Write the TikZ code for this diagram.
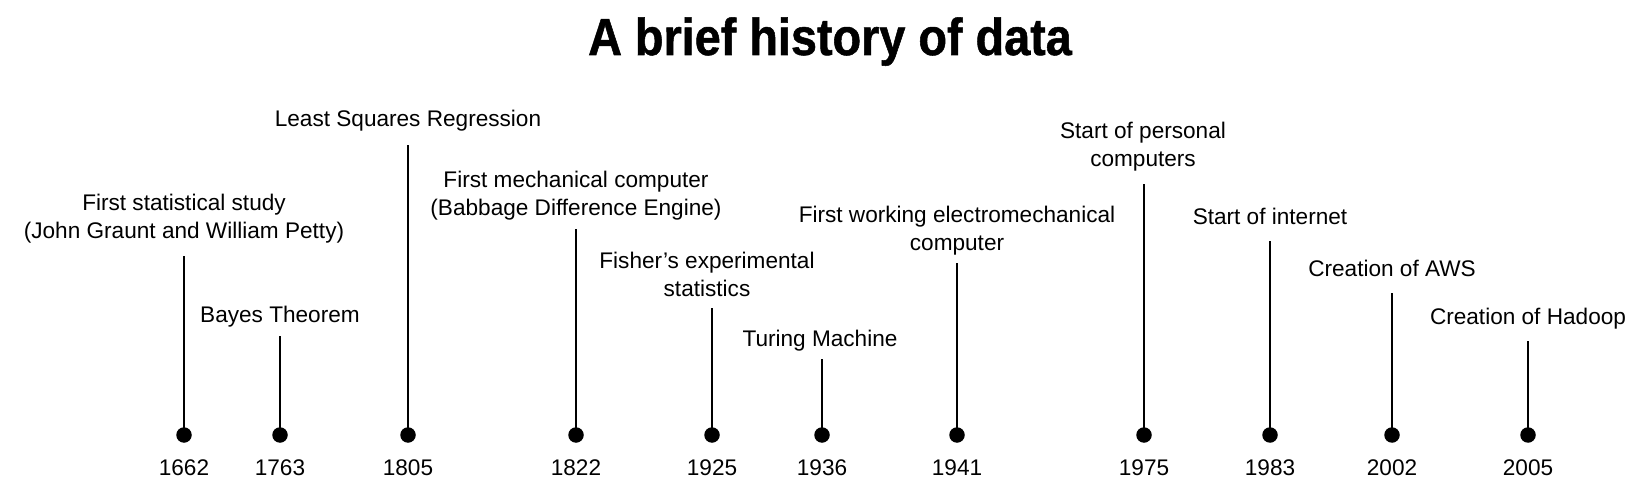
\documentclass[tikz,border=0pt]{standalone}
\usepackage{fontspec}
\setmainfont{Liberation Sans}
\newfontfamily\titlefont{Liberation Sans}[FakeStretch=0.9,FakeBold=1]
\begin{document}
\begin{tikzpicture}[x=1pt,y=-1pt,
  dot/.style={circle,fill=black,inner sep=0pt,minimum size=15.5pt},
  stem/.style={line width=2.2pt,black},
  evlabel/.style={anchor=base,align=center,inner sep=0pt,font=\fontsize{22.6}{28}\selectfont},
  yearlabel/.style={anchor=base,inner sep=0pt,font=\fontsize{22.6}{28}\selectfont},
  titlestyle/.style={anchor=base,inner sep=0pt,font=\titlefont\bfseries\fontsize{52}{60}\selectfont}]
\useasboundingbox (0,0) rectangle (1650,500);
\node[titlestyle] (title) at (830,55) {A brief history of data};
% 1662
\node[dot] (d1) at (184,435) {};
\coordinate (t1) at (184,256);
\node[evlabel] (l1) at (184,238) {First statistical study\\(John Graunt and William Petty)};
\node[yearlabel] (y1) at (184,475) {1662};
% 1763
\node[dot] (d2) at (280,435) {};
\coordinate (t2) at (280,336);
\node[evlabel] (l2) at (280,322) {Bayes Theorem};
\node[yearlabel] (y2) at (280,475) {1763};
% 1805
\node[dot] (d3) at (408,435) {};
\coordinate (t3) at (408,145);
\node[evlabel] (l3) at (408,127) {Least Squares Regression};
\node[yearlabel] (y3) at (408,475) {1805};
% 1822
\node[dot] (d4) at (576,435) {};
\coordinate (t4) at (576,229);
\node[evlabel] (l4) at (576,215) {First mechanical computer\\(Babbage Difference Engine)};
\node[yearlabel] (y4) at (576,475) {1822};
% 1925
\node[dot] (d5) at (712,435) {};
\coordinate (t5) at (712,308);
\node[evlabel] (l5) at (707,296) {Fisher’s experimental\\statistics};
\node[yearlabel] (y5) at (712,475) {1925};
% 1936
\node[dot] (d6) at (822,435) {};
\coordinate (t6) at (822,359);
\node[evlabel] (l6) at (820,346) {Turing Machine};
\node[yearlabel] (y6) at (822,475) {1936};
% 1941
\node[dot] (d7) at (957,435) {};
\coordinate (t7) at (957,263);
\node[evlabel] (l7) at (957,250) {First working electromechanical\\computer};
\node[yearlabel] (y7) at (957,475) {1941};
% 1975
\node[dot] (d8) at (1144,435) {};
\coordinate (t8) at (1144,184);
\node[evlabel] (l8) at (1143,167) {Start of personal\\computers};
\node[yearlabel] (y8) at (1144,475) {1975};
% 1983
\node[dot] (d9) at (1270,435) {};
\coordinate (t9) at (1270,241);
\node[evlabel] (l9) at (1270,224) {Start of internet};
\node[yearlabel] (y9) at (1270,475) {1983};
% 2002
\node[dot] (d10) at (1392,435) {};
\coordinate (t10) at (1392,293);
\node[evlabel] (l10) at (1392,276) {Creation of AWS};
\node[yearlabel] (y10) at (1392,475) {2002};
% 2005
\node[dot] (d11) at (1528,435) {};
\coordinate (t11) at (1528,341);
\node[evlabel] (l11) at (1528,324) {Creation of Hadoop};
\node[yearlabel] (y11) at (1528,475) {2005};
\foreach \i in {1,...,11} {\draw[stem] (d\i.center) -- (t\i);}
\end{tikzpicture}
\end{document}
